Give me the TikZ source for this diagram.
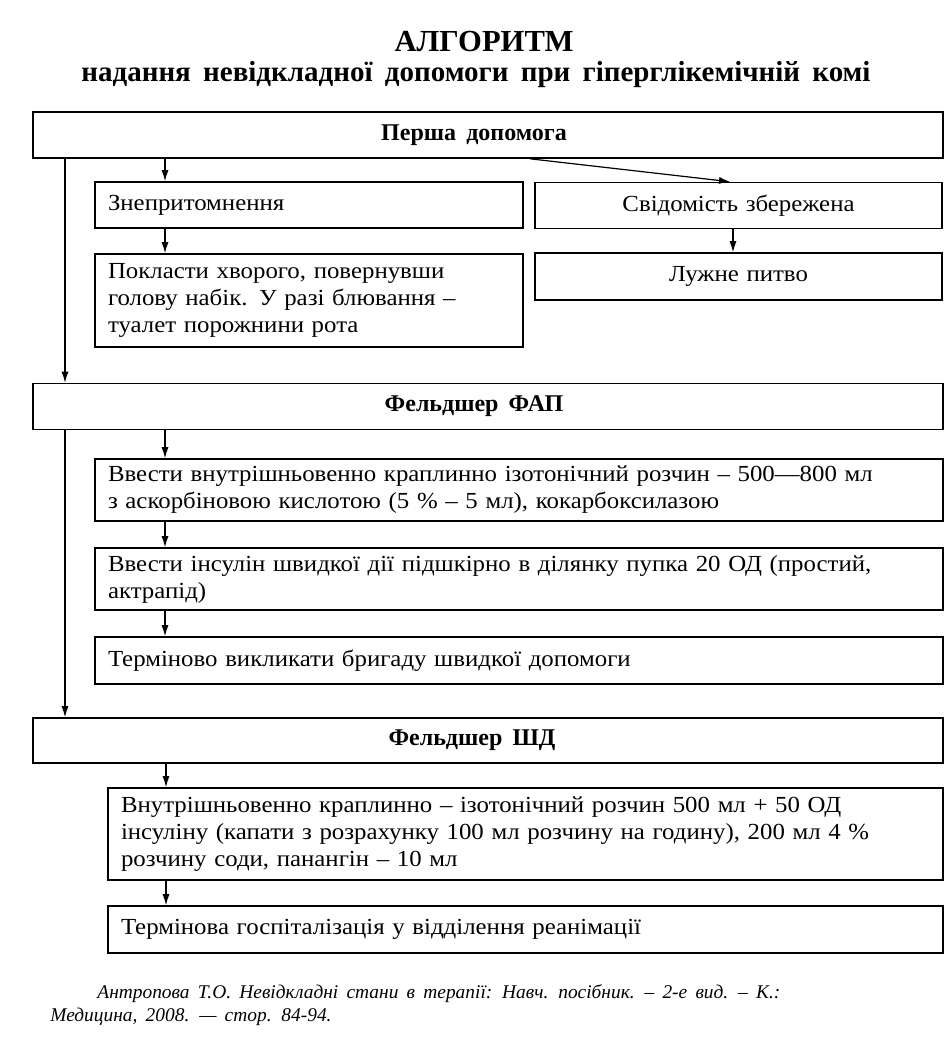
\documentclass[tikz,border=0pt]{standalone}
\usepackage{fontspec}
\setmainfont{Liberation Serif}[WordSpace=1.7]
\newfontfamily\boxfont{Liberation Serif}[FakeStretch=1.08,WordSpace=2.2]
\usetikzlibrary{arrows.meta}

\begin{document}
\begin{tikzpicture}[x=0.5pt,y=-0.5pt,
  headbox/.style={draw,line width=0.8pt,minimum width=455pt,minimum height=23pt,
    inner sep=0pt,font=\bfseries\fontsize{12}{14}\selectfont},
  stepbox/.style={draw,line width=0.8pt,align=left,inner xsep=6.5pt,inner ysep=0pt,
    font=\boxfont\fontsize{11.5}{13.5}\selectfont},
  arr/.style={-{Latex[length=5.5pt,width=3.5pt]},line width=0.6pt}]
\useasboundingbox (0,0) rectangle (952,1061);

% Title
\node[font=\bfseries\fontsize{15.3}{17}\selectfont] (title) at (484,42) {АЛГОРИТМ};
\node[font=\bfseries\fontsize{14.5}{16}\selectfont] (subtitle) at (476,75)
  {надання невідкладної допомоги при гіперглікемічній комі};

% Перша допомога
\node[headbox] (first) at (488,135) {Перша допомога\hspace*{14pt}};
\node[stepbox,text width=201pt,minimum height=23pt] (faint) at (309,205) {Знепритомнення};
\node[stepbox,text width=201pt,minimum height=46.5pt] (lay) at (309,300.5)
  {Покласти хворого, повернувши\\ голову набік. У разі блювання –\\ туалет порожнини рота};
\node[stepbox,align=center,text width=190.5pt,minimum height=23pt] (conscious) at (738.5,205.5) {Свідомість збережена};
\node[stepbox,align=center,text width=190.5pt,minimum height=23.5pt] (drink) at (738.5,276.5) {Лужне питво};

% Фельдшер ФАП
\node[headbox] (fap) at (488,406.5) {Фельдшер ФАП\hspace*{14pt}};
\node[stepbox,text width=411pt,minimum height=31pt] (iv) at (519,490)
  {Ввести внутрішньовенно краплинно ізотонічний розчин – 500—800 мл\\ з аскорбіновою кислотою (5 \% – 5 мл), кокарбоксилазою};
\node[stepbox,text width=411pt,minimum height=31pt] (insulin) at (519,579)
  {Ввести інсулін швидкої дії підшкірно в ділянку пупка 20 ОД (простий,\\ актрапід)};
\node[stepbox,text width=411pt,minimum height=23.5pt] (call) at (519,660.5)
  {Терміново викликати бригаду швидкої допомоги};

% Фельдшер ШД
\node[headbox,minimum height=22.5pt] (emerg) at (488,740.5) {Фельдшер ШД\hspace*{16pt}};
\node[stepbox,text width=404.5pt,minimum height=46pt] (drip) at (525.5,834)
  {Внутрішньовенно краплинно – ізотонічний розчин 500 мл + 50 ОД\\ інсуліну (капати з розрахунку 100 мл розчину на годину), 200 мл 4 \%\\ розчину соди, панангін – 10 мл};
\node[stepbox,text width=404.5pt,minimum height=23.5pt] (hosp) at (525.5,929.5)
  {Термінова госпіталізація у відділення реанімації};

% Source
\node[anchor=north west,align=left,inner sep=0pt,font=\itshape\fontsize{9.7}{11.5}\selectfont] (source) at (50,984)
  {\hspace*{23.5pt}Антропова Т.О. Невідкладні стани в терапії: Навч. посібник. – 2-е вид. – К.:\\
   Медицина, 2008. — стор. 84-94.};

% Connections
\coordinate (lx) at (65,0);
\coordinate (ax) at (165,0);
\coordinate (bx) at (166,0);
\coordinate (dx) at (530,0);
\coordinate (ex) at (730,0);
\coordinate (cx) at (733,0);
\draw[arr] (first.south -| lx) -- (fap.north -| lx);
\draw[arr] (fap.south -| lx) -- (emerg.north -| lx);
\draw[arr] (first.south -| ax) -- (faint.north -| ax);
\draw[arr] (faint.south -| ax) -- (lay.north -| ax);
\draw[arr] (first.south -| dx) -- (conscious.north -| ex);
\draw[arr] (conscious.south -| cx) -- (drink.north -| cx);
\draw[arr] (fap.south -| ax) -- (iv.north -| ax);
\draw[arr] (iv.south -| ax) -- (insulin.north -| ax);
\draw[arr] (insulin.south -| ax) -- (call.north -| ax);
\draw[arr] (emerg.south -| bx) -- (drip.north -| bx);
\draw[arr] (drip.south -| bx) -- (hosp.north -| bx);
\end{tikzpicture}
\end{document}
